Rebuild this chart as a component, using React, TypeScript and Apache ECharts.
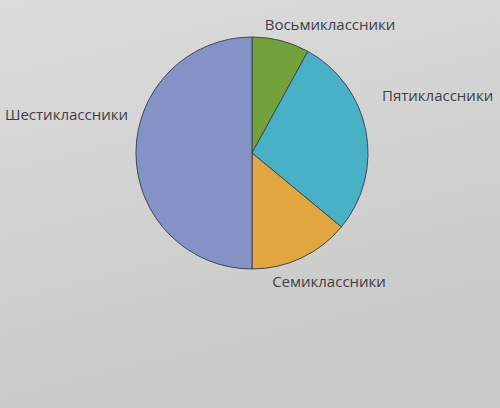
import React, { useEffect, useRef } from "react";
import * as echarts from "echarts";

const categories = ["Восьмиклассники", "Пятиклассники", "Семиклассники", "Шестиклассники"];
const values = [8, 28, 14, 50];
const colors = ["#72a33a", "#48b1c6", "#e2a63e", "#8592c6"];

const labelPos: Record<number, { x: number; y: number; align: string }> = {
  0: { x: 330, y: 24, align: "center" },
  1: { x: 382, y: 95, align: "left" },
  2: { x: 329, y: 281, align: "center" },
  3: { x: 128, y: 114, align: "right" },
};

export default function App() {
  const ref = useRef<HTMLDivElement>(null);
  useEffect(() => {
    if (!ref.current) return;
    const chart = echarts.init(ref.current, undefined, { renderer: "svg" });
    chart.setOption({
      animation: false,
      backgroundColor: {
        type: "linear",
        x: 0, y: 0, x2: 0.3, y2: 1,
        colorStops: [
          { offset: 0, color: "#dcdcdc" },
          { offset: 1, color: "#c9c9c8" },
        ],
      },
      series: [
        {
          type: "pie",
          center: [252, 153],
          radius: 116,
          startAngle: 90,
          clockwise: true,
          data: categories.map((name, i) => ({
            name,
            value: values[i],
            itemStyle: { color: colors[i] },
          })),
          itemStyle: { borderColor: "#3c4856", borderWidth: 1 },
          label: {
            show: true,
            position: "outside",
            formatter: "{b}",
            color: "#3e3e48",
            fontSize: 15,
            fontWeight: 500,
            fontFamily: "Open Sans",
            overflow: "none",
            width: 200,
          },
          labelLine: { show: false },
          labelLayout: (p: any) => {
            const pos = labelPos[p.dataIndex];
            return { x: pos.x, y: pos.y, align: pos.align, verticalAlign: "middle" };
          },
        },
      ],
    });
    return () => chart.dispose();
  }, []);
  return (
    <div
      ref={ref}
      style={{ width: 500, height: 408, position: "fixed", left: 0, top: 0 }}
    />
  );
}
